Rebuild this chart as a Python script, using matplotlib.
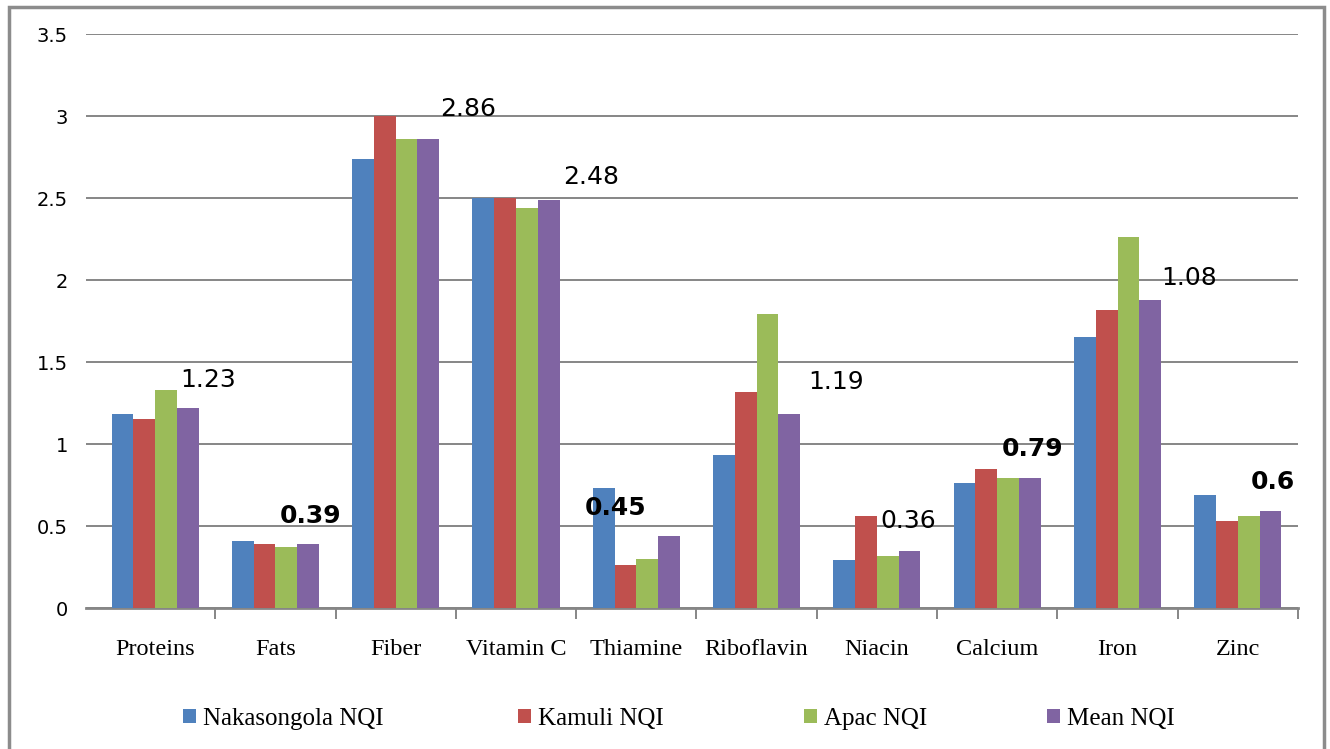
import matplotlib.pyplot as plt
from matplotlib.patches import Rectangle
import numpy as np

# nutrient quality index per district
nutrients = ['Proteins', 'Fats', 'Fiber', 'Vitamin C', 'Thiamine',
             'Riboflavin', 'Niacin', 'Calcium', 'Iron', 'Zinc']
nakasongola = [1.18, 0.41, 2.74, 2.50, 0.73, 0.93, 0.29, 0.76, 1.65, 0.69]
kamuli = [1.15, 0.39, 3.00, 2.50, 0.26, 1.32, 0.56, 0.85, 1.82, 0.53]
apac = [1.33, 0.37, 2.86, 2.44, 0.30, 1.79, 0.32, 0.79, 2.26, 0.56]
mean_nqi = [1.22, 0.39, 2.86, 2.49, 0.44, 1.18, 0.35, 0.79, 1.88, 0.59]

series_names = ['Nakasongola NQI', 'Kamuli NQI', 'Apac NQI', 'Mean NQI']
colors = ['#4F81BD', '#C0504D', '#9BBB59', '#8064A2']

# text boxes written over each group
note_text = ['1.23', '0.39', '2.86', '2.48', '0.45', '1.19', '0.36', '0.79', '1.08', '0.6']
note_bold = [False, True, False, False, True, False, False, True, False, True]
note_x = [0.21, 1.04, 2.37, 3.39, 3.57, 5.43, 6.03, 7.04, 8.36, 9.11]
note_y = [1.39, 0.56, 3.04, 2.63, 0.61, 1.38, 0.53, 0.97, 2.01, 0.77]

fig = plt.figure(figsize=(13.3, 7.49), dpi=100)
ax = fig.add_axes([86 / 1330, 1 - 608 / 749, 1212 / 1330, 574 / 749])

x = np.arange(len(nutrients))
w = 0.181
bars = []
for k, vals in enumerate([nakasongola, kamuli, apac, mean_nqi]):
    b = ax.bar(x + (k - 1.5) * w, vals, w, color=colors[k], label=series_names[k], zorder=3)
    bars.append(b)

ax.set_xlim(-0.574, 9.5)
ax.set_ylim(0, 3.5)
ax.set_yticks(np.arange(0, 3.51, 0.5))
ax.set_yticklabels(['0', '0.5', '1', '1.5', '2', '2.5', '3', '3.5'],
                   fontsize=14, family='DejaVu Sans')
ax.yaxis.grid(True, color='#868686', linewidth=1.4, zorder=0)
ax.tick_params(axis='y', length=0, pad=13)

ax.set_xticks(x)
ax.set_xticklabels(nutrients, fontsize=17.5, family='Liberation Serif')
ax.set_xticks(np.arange(0.5, 10, 1), minor=True)
ax.tick_params(axis='x', which='major', length=0, pad=22)
ax.tick_params(axis='x', which='minor', length=8, width=1.4, color='#868686', direction='out')

for s in ['top', 'right', 'left']:
    ax.spines[s].set_visible(False)
ax.spines['bottom'].set_color('#868686')
ax.spines['bottom'].set_linewidth(2)

for t, b, nx, ny in zip(note_text, note_bold, note_x, note_y):
    ax.text(nx, ny, t, ha='left', va='center', fontsize=18, family='DejaVu Sans',
            fontweight='bold' if b else 'normal', zorder=4)

# legend entries spread across the bottom
legend_x = [183, 518, 804, 1047]
for bx, b, name in zip(legend_x, bars, series_names):
    fig.legend(handles=[b], labels=[name], loc='center left',
               bbox_to_anchor=(bx / 1330, 1 - 719 / 749), frameon=False,
               prop={'family': 'Liberation Serif', 'size': 18},
               handlelength=0.5, handleheight=0.5, handletextpad=0.3,
               borderpad=0, borderaxespad=0)

fig.patches.append(Rectangle((9 / 1330, -0.05), 1315 / 1330, 1.05 - 7 / 749,
                             transform=fig.transFigure, fill=False,
                             edgecolor='#8c8c8c', linewidth=2.5))

fig.savefig('out.png', dpi=100)
